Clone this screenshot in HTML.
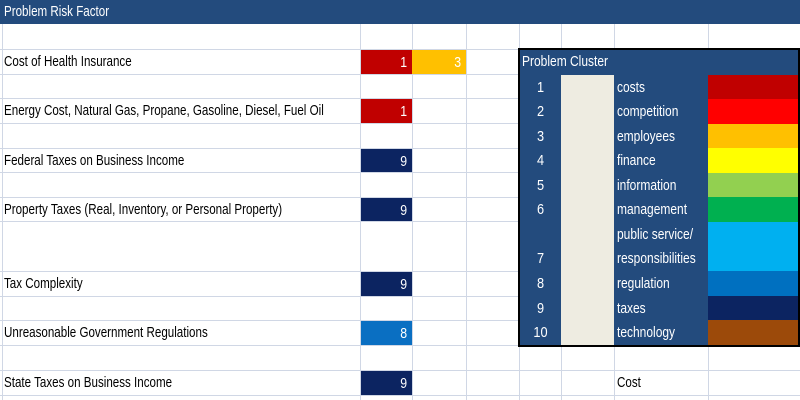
<!DOCTYPE html>
<html><head><meta charset="utf-8"><style>
body{margin:0;width:800px;height:400px;overflow:hidden;background:#fff;position:relative;font-family:"Liberation Sans",sans-serif;}
div{position:absolute;box-sizing:border-box;}
.h{height:1px;background:#d0d7e5;left:0;width:800px}
.v{width:1px;background:#d0d7e5;top:24px;height:376px}
.t{font-size:14.5px;line-height:27px;white-space:nowrap;transform:scaleX(0.8);transform-origin:0 50%;color:#000}
.n{font-size:14.5px;line-height:26px;color:#fff;text-align:right;padding-right:5px}
.n span{display:inline-block;transform:scaleX(0.85);transform-origin:100% 50%}
.c{text-align:center;color:#fff;font-size:15px;transform:scaleX(0.85)}
.l{color:#fff;font-size:15px;white-space:nowrap;transform:scaleX(0.8);transform-origin:0 50%}
</style></head><body>
<div style="left:0;top:0;width:800px;height:24px;background:#234b7d"></div>
<div class="t" style="left:4px;top:0;color:#fff;line-height:24px">Problem Risk Factor</div>
<div class="h" style="top:49px"></div><div class="h" style="top:74px"></div><div class="h" style="top:98px"></div>
<div class="h" style="top:123px"></div><div class="h" style="top:148px"></div><div class="h" style="top:172px"></div>
<div class="h" style="top:197px"></div><div class="h" style="top:221px"></div><div class="h" style="top:271px"></div>
<div class="h" style="top:296px"></div><div class="h" style="top:320px"></div><div class="h" style="top:345px"></div>
<div class="h" style="top:370px"></div><div class="h" style="top:395px"></div>
<div class="v" style="left:2px"></div><div class="v" style="left:360px"></div><div class="v" style="left:412px"></div>
<div class="v" style="left:466px"></div><div class="v" style="left:519px"></div><div class="v" style="left:561px"></div>
<div class="v" style="left:614px"></div><div class="v" style="left:708px"></div>
<div class="t" style="left:4px;top:49px">Cost of Health Insurance</div>
<div class="t" style="left:4px;top:98px">Energy Cost, Natural Gas, Propane, Gasoline, Diesel, Fuel Oil</div>
<div class="t" style="left:4px;top:148px">Federal Taxes on Business Income</div>
<div class="t" style="left:4px;top:197px">Property Taxes (Real, Inventory, or Personal Property)</div>
<div class="t" style="left:4px;top:271px">Tax Complexity</div>
<div class="t" style="left:4px;top:320px">Unreasonable Government Regulations</div>
<div class="t" style="left:4px;top:370px">State Taxes on Business Income</div>
<div class="n" style="left:361px;top:50px;width:51px;height:24px;background:#c00000"><span>1</span></div>
<div class="n" style="left:412px;top:50px;width:54px;height:24px;background:#ffc000"><span>3</span></div>
<div class="n" style="left:361px;top:99px;width:51px;height:24px;background:#c00000"><span>1</span></div>
<div class="n" style="left:361px;top:149px;width:51px;height:23px;background:#0c2461"><span>9</span></div>
<div class="n" style="left:361px;top:198px;width:51px;height:23px;background:#0c2461"><span>9</span></div>
<div class="n" style="left:361px;top:272px;width:51px;height:24px;background:#0c2461"><span>9</span></div>
<div class="n" style="left:361px;top:321px;width:51px;height:24px;background:#0a6fc2"><span>8</span></div>
<div class="n" style="left:361px;top:371px;width:51px;height:24px;background:#0c2461"><span>9</span></div>
<div class="t" style="left:617px;top:370px">Cost</div>
<div style="left:518px;top:48px;width:282px;height:299px;background:#000"></div>
<div style="left:520px;top:50px;width:278px;height:295px;background:#234b7d"></div>
<div class="l" style="left:522px;top:50px;line-height:24px">Problem Cluster</div>
<div style="left:561px;top:75px;width:53px;height:270px;background:#eeece1"></div>
<div style="left:708px;top:75px;width:90px;height:24px;background:#c00000"></div>
<div style="left:708px;top:99px;width:90px;height:25px;background:#ff0000"></div>
<div style="left:708px;top:124px;width:90px;height:24px;background:#ffc000"></div>
<div style="left:708px;top:148px;width:90px;height:25px;background:#ffff00"></div>
<div style="left:708px;top:173px;width:90px;height:24px;background:#92d050"></div>
<div style="left:708px;top:197px;width:90px;height:25px;background:#00b050"></div>
<div style="left:708px;top:222px;width:90px;height:49px;background:#00b0f0"></div>
<div style="left:708px;top:271px;width:90px;height:25px;background:#0070c0"></div>
<div style="left:708px;top:296px;width:90px;height:24px;background:#0c2461"></div>
<div style="left:708px;top:320px;width:90px;height:25px;background:#9c4a0a"></div>
<div class="c" style="left:520px;width:41px;top:75px;line-height:26px">1</div>
<div class="c" style="left:520px;width:41px;top:99px;line-height:26px">2</div>
<div class="c" style="left:520px;width:41px;top:124px;line-height:26px">3</div>
<div class="c" style="left:520px;width:41px;top:148px;line-height:26px">4</div>
<div class="c" style="left:520px;width:41px;top:173px;line-height:26px">5</div>
<div class="c" style="left:520px;width:41px;top:197px;line-height:26px">6</div>
<div class="c" style="left:520px;width:41px;top:246px;line-height:26px">7</div>
<div class="c" style="left:520px;width:41px;top:271px;line-height:26px">8</div>
<div class="c" style="left:520px;width:41px;top:296px;line-height:26px">9</div>
<div class="c" style="left:520px;width:41px;top:320px;line-height:26px">10</div>
<div class="l" style="left:617px;top:75px;line-height:26px">costs</div>
<div class="l" style="left:617px;top:99px;line-height:26px">competition</div>
<div class="l" style="left:617px;top:124px;line-height:26px">employees</div>
<div class="l" style="left:617px;top:148px;line-height:26px">finance</div>
<div class="l" style="left:617px;top:173px;line-height:26px">information</div>
<div class="l" style="left:617px;top:197px;line-height:26px">management</div>
<div class="l" style="left:617px;top:222px;line-height:26px">public service/</div>
<div class="l" style="left:617px;top:246px;line-height:26px">responsibilities</div>
<div class="l" style="left:617px;top:271px;line-height:26px">regulation</div>
<div class="l" style="left:617px;top:296px;line-height:26px">taxes</div>
<div class="l" style="left:617px;top:320px;line-height:26px">technology</div>
</body></html>
